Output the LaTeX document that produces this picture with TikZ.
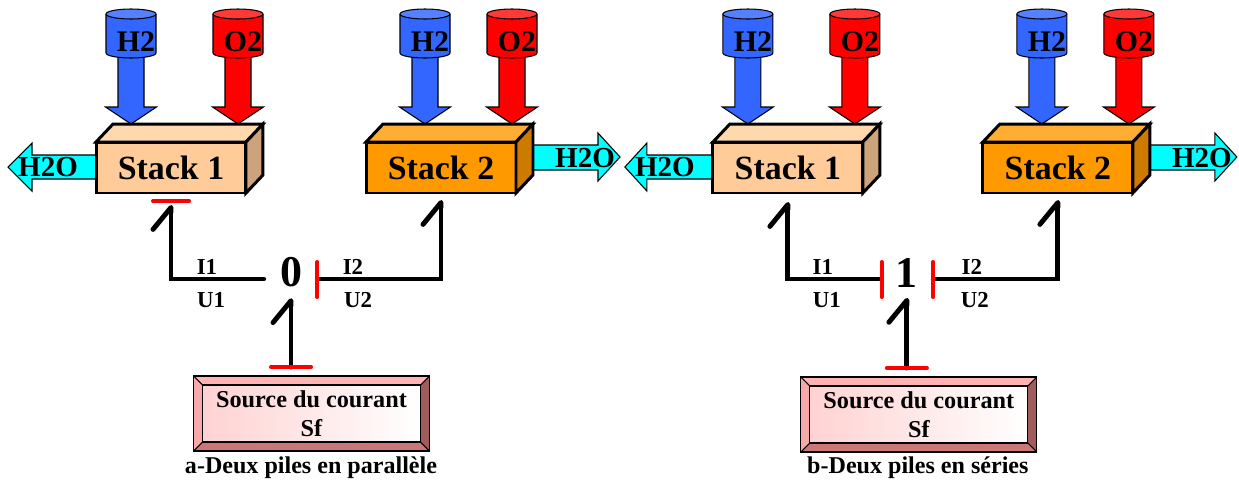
\documentclass[tikz,border=0pt]{standalone}
\usepackage{fontspec}
\setmainfont{Liberation Serif}
\usetikzlibrary{arrows.meta}
\usetikzlibrary{calc}

\definecolor{hblue}{HTML}{3366FF}
\definecolor{hbluetop}{HTML}{5580FF}
\definecolor{ored}{HTML}{FF0000}
\definecolor{oredtop}{HTML}{FF3838}
\definecolor{water}{HTML}{00FFFF}
\definecolor{peach}{HTML}{FFCC99}
\definecolor{peachtop}{HTML}{FFD8AE}
\definecolor{peachside}{HTML}{CCA37A}
\definecolor{amber}{HTML}{FF9900}
\definecolor{ambertop}{HTML}{FFAD33}
\definecolor{amberside}{HTML}{CC7A00}
\definecolor{bevtop}{HTML}{FFB3B3}
\definecolor{bevleft}{HTML}{F7A8A8}
\definecolor{bevbot}{HTML}{CC7777}
\definecolor{bevright}{HTML}{A05C5C}
\definecolor{bevin}{HTML}{FFD2D2}

\tikzset{
  boxline/.style={draw, line width=1.7pt},
  stackbox/.style={boxline, minimum width=3cm, minimum height=1.02cm, inner sep=0pt, outer sep=0pt,
    font=\fontsize{19.3}{22}\selectfont\bfseries},
  gasline/.style={draw, line width=0.6pt},
  gaslabel/.style={inner sep=0pt, font=\fontsize{17}{20}\selectfont\bfseries},
  waterlabel/.style={inner sep=0pt, font=\fontsize{16.5}{20}\selectfont\bfseries},
  junction/.style={inner sep=0pt, font=\fontsize{25}{30}\selectfont\bfseries},
  flow/.style={inner sep=0pt, font=\fontsize{13}{15}\selectfont\bfseries},
  caption/.style={inner sep=0pt, font=\fontsize{13.7}{16}\selectfont\bfseries},
  bond/.style={line width=2.8pt, line cap=round,
    -{Straight Barb[left, length=12.5pt, width=20.5pt, round]}},
  causal/.style={red, line width=2.3pt, line cap=round},
  srcbox/.style={draw, line width=0.6pt, minimum width=4.72cm, minimum height=1.5cm,
    inner sep=0pt, outer sep=0pt, align=center, font=\fontsize{13.8}{16.5}\selectfont\bfseries,
    path picture={
      \coordinate (nw) at (path picture bounding box.north west);
      \coordinate (ne) at (path picture bounding box.north east);
      \coordinate (sw) at (path picture bounding box.south west);
      \coordinate (se) at (path picture bounding box.south east);
      \fill[bevtop] (nw) -- (ne) -- ([shift={(-9,9)}]ne) -- ([shift={(9,9)}]nw) -- cycle;
      \fill[bevleft] (nw) -- ([shift={(9,9)}]nw) -- ([shift={(9,-9)}]sw) -- (sw) -- cycle;
      \fill[bevbot] (sw) -- ([shift={(9,-9)}]sw) -- ([shift={(-9,-9)}]se) -- (se) -- cycle;
      \fill[bevright] (ne) -- (se) -- ([shift={(-9,-9)}]se) -- ([shift={(-9,9)}]ne) -- cycle;
      \shadedraw[left color=bevin, right color=white, line width=0.6pt]
        ([shift={(9,9)}]nw) rectangle ([shift={(-9,-9)}]se);
      \draw[line width=0.6pt] (nw) -- ([shift={(9,9)}]nw) (ne) -- ([shift={(-9,9)}]ne)
        (sw) -- ([shift={(9,-9)}]sw) (se) -- ([shift={(-9,-9)}]se);
    }},
}

% gas bottle with its feed arrow: name, x, body colour, lid colour, label
\newcommand{\gasfeed}[5]{%
  \draw[gasline, fill=#3] (#2-13,50) -- (#2-13,107) -- (#2-25.5,107) -- (#2,124)
    -- (#2+25.5,107) -- (#2+13,107) -- (#2+13,50) -- cycle;
  \draw[gasline, fill=#3] (#2-25,14) -- (#2-25,53)
    arc[start angle=180, end angle=0, x radius=25, y radius=5] -- (#2+25,14);
  \draw[gasline, fill=#4] (#2,14) ellipse[x radius=25, y radius=5];
  \node[gaslabel] (#1) at (#2+5,42) {#5};
}

\begin{document}
\begin{tikzpicture}[x=0.02cm, y=-0.02cm]
  \useasboundingbox (0,0) rectangle (1239,481);

  % a) parallel
  \gasfeed{hyd1a}{131}{hblue}{hbluetop}{H2}
  \gasfeed{oxy1a}{238}{ored}{oredtop}{O2}
  \gasfeed{hyd2a}{425}{hblue}{hbluetop}{H2}
  \gasfeed{oxy2a}{512}{ored}{oredtop}{O2}

  \draw[gasline, fill=water] (100,155) -- (32,155) -- (32,143) -- (8,167) -- (32,191) -- (32,179) -- (100,179) -- cycle;
  \node[waterlabel] (wat1a) at (48,167) {H2O};
  \draw[gasline, fill=water] (525,145) -- (598,145) -- (598,133) -- (620,157) -- (598,181) -- (598,170) -- (525,170) -- cycle;
  \node[waterlabel] (wat2a) at (585,158) {H2O};

  \node[stackbox, fill=peach] (st1a) at (171,167.5) {Stack 1};
  \draw[boxline, fill=peachtop] (st1a.north west) -- ++(17,-18) -- ++(150,0) -- (st1a.north east) -- cycle;
  \draw[boxline, fill=peachside] (st1a.north east) -- ++(17,-18) -- ++(0,51) -- (st1a.south east) -- cycle;
  \node[stackbox, fill=amber] (st2a) at (441,167.5) {Stack 2};
  \draw[boxline, fill=ambertop] (st2a.north west) -- ++(17,-18) -- ++(150,0) -- (st2a.north east) -- cycle;
  \draw[boxline, fill=amberside] (st2a.north east) -- ++(17,-18) -- ++(0,51) -- (st2a.south east) -- cycle;

  \node[srcbox] (srca) at (311.5,413.5) {Source du courant\\Sf};
  \node[junction] (j0a) at (291,272) {0};

  \draw[bond, shorten >=0.24cm] ([shift={(-16,7)}]j0a.west) -| (st1a.south);
  \draw[bond, shorten >=0.14cm] ([shift={(15,7)}]j0a.east) -| (st2a.south);
  \draw[bond] ($(j0a.south |- srca.north)+(0,-9)$) -- ($(j0a.south)+(0,11)$);

  \draw[causal] ($(st1a.south)+(-18,8)$) -- +(36,0);
  \draw[causal] ($(j0a.east)+(15,-10)$) -- +(0,35);
  \draw[causal] ($(j0a.south |- srca.north)+(-20,-9)$) -- +(40,0);

  \node[flow] (i1a) at (207,267) {I1};
  \node[flow] (u1a) at (211,300) {U1};
  \node[flow] (i2a) at (353,267) {I2};
  \node[flow] (u2a) at (358,300) {U2};

  \node[caption] (capa) at (311,468) {a-Deux piles en parallèle};

  % b) series
  \begin{scope}[xshift=12.34cm]
    \gasfeed{hyd1b}{131}{hblue}{hbluetop}{H2}
    \gasfeed{oxy1b}{238}{ored}{oredtop}{O2}
    \gasfeed{hyd2b}{425}{hblue}{hbluetop}{H2}
    \gasfeed{oxy2b}{512}{ored}{oredtop}{O2}

    \draw[gasline, fill=water] (100,155) -- (30,155) -- (30,143) -- (8,167) -- (30,191) -- (30,179) -- (100,179) -- cycle;
    \node[waterlabel] (wat1b) at (48,167) {H2O};
    \draw[gasline, fill=water] (525,145) -- (598,145) -- (598,133) -- (620,157) -- (598,181) -- (598,170) -- (525,170) -- cycle;
    \node[waterlabel] (wat2b) at (585,158) {H2O};

    \node[stackbox, fill=peach] (st1b) at (171,167.5) {Stack 1};
    \draw[boxline, fill=peachtop] (st1b.north west) -- ++(17,-18) -- ++(150,0) -- (st1b.north east) -- cycle;
    \draw[boxline, fill=peachside] (st1b.north east) -- ++(17,-18) -- ++(0,51) -- (st1b.south east) -- cycle;
    \node[stackbox, fill=amber] (st2b) at (441,167.5) {Stack 2};
    \draw[boxline, fill=ambertop] (st2b.north west) -- ++(17,-18) -- ++(150,0) -- (st2b.north east) -- cycle;
    \draw[boxline, fill=amberside] (st2b.north east) -- ++(17,-18) -- ++(0,51) -- (st2b.south east) -- cycle;

    \node[srcbox] (srcb) at (302,414.5) {Source du courant\\Sf};
    \node[junction] (j1b) at (290,273) {1};

    \draw[bond, shorten >=0.18cm] ([shift={(-14,6)}]j1b.west) -| (st1b.south);
    \draw[bond, shorten >=0.14cm] ([shift={(15,6)}]j1b.east) -| (st2b.south);
    \draw[bond] ($(j1b.south |- srcb.north)+(0,-9)$) -- ($(j1b.south)+(0,10)$);

    \draw[causal] ($(j1b.west)+(-14,-11)$) -- +(0,35);
    \draw[causal] ($(j1b.east)+(15,-11)$) -- +(0,35);
    \draw[causal] ($(j1b.south |- srcb.north)+(-20,-9)$) -- +(40,0);

    \node[flow] (i1b) at (206,267) {I1};
    \node[flow] (u1b) at (210,300) {U1};
    \node[flow] (i2b) at (355,267) {I2};
    \node[flow] (u2b) at (358,300) {U2};

    \node[caption] (capb) at (301,468) {b-Deux piles en séries};
  \end{scope}
\end{tikzpicture}
\end{document}
